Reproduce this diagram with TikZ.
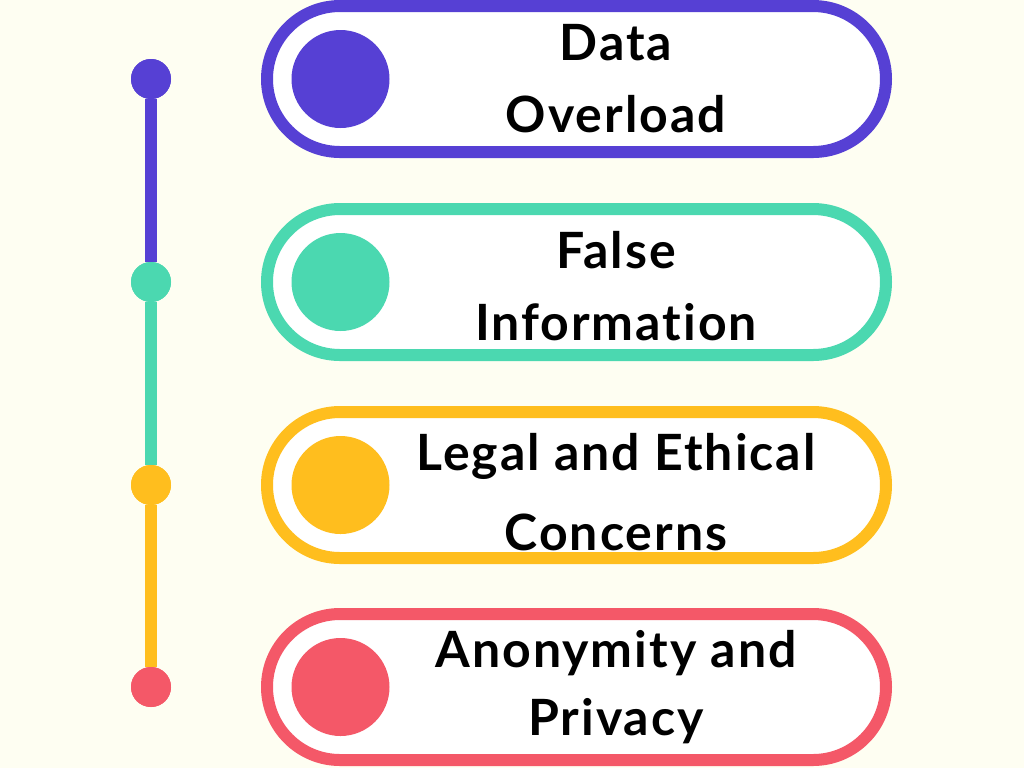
\documentclass[tikz,border=0pt]{standalone}
\usepackage{fontspec}
\setmainfont{Lato}[Ligatures=NoCommon, LetterSpace=4]
\usetikzlibrary{shapes.misc}
\definecolor{bgcream}{HTML}{FEFEF2}
\definecolor{cpurple}{HTML}{5640D4}
\definecolor{cteal}{HTML}{4BD8B0}
\definecolor{cyellow}{HTML}{FFBE1E}
\definecolor{cred}{HTML}{F45868}
\begin{document}
\begin{tikzpicture}[
        x=0.5pt,
        y=-0.5pt,
        pill/.style={rounded rectangle, draw, line width=6pt, fill=white, minimum width=309.5pt, minimum height=73pt, inner sep=0pt},
        bullet/.style={circle, minimum size=49pt, inner sep=0pt},
        dot/.style={circle, minimum size=20pt, inner sep=0pt},
        itemtext/.style={font=\bfseries\fontsize{25}{36}\selectfont, align=center, inner sep=0pt, anchor=base},
        stem/.style={line width=6pt}
    ]
    \fill[bgcream] (0,0) rectangle (1024,768);
    \useasboundingbox (0,0) rectangle (1024,768);
    % pills with their bullets
    \foreach \i/\y/\col in {1/79/cpurple, 2/282/cteal, 3/485/cyellow, 4/687/cred} {
        \node[pill, draw=\col] (p\i) at (576.5,\y) {};
        \node[bullet, fill=\col] (b\i) at (340.5,\y) {};
        \node[dot, fill=\col] (d\i) at (151,\y) {};
    }
    \node[itemtext] (t1) at (616,132) {Data\\Overload};
    \node[itemtext] (t2) at (616,340) {False\\Information};
    \node[itemtext] (t3) at (616,550) {Legal and Ethical\\[4pt]Concerns};
    \node[itemtext] (t4) at (616,735) {Anonymity and\\[-2pt]Privacy};
    % timeline
    \draw[stem, cpurple] (d1) -- (d2);
    \draw[stem, cteal] (d2) -- (d3);
    \draw[stem, cyellow] (d3) -- (d4);
    \foreach \i/\col in {1/cpurple, 2/cteal, 3/cyellow, 4/cred} {
        \fill[\col] (d\i) circle (10pt);
    }
\end{tikzpicture}
\end{document}
